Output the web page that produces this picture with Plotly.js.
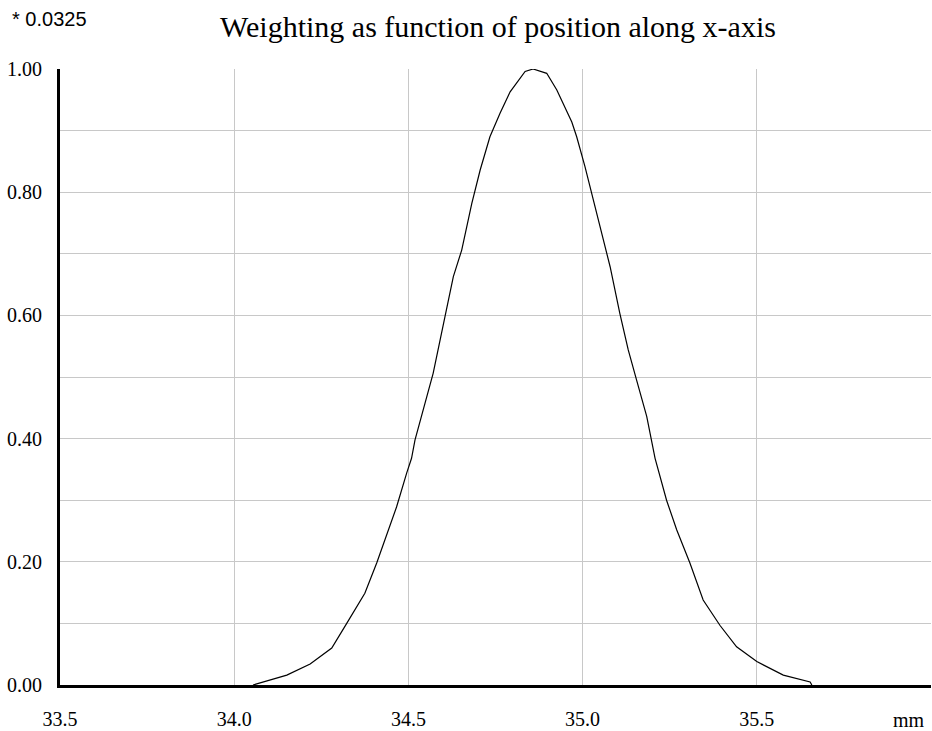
<!DOCTYPE html>
<html>
<head>
<meta charset="utf-8">
<script src="https://cdn.plot.ly/plotly-3.0.1.min.js"></script>
<style>html,body{margin:0;padding:0;background:#fff;}#chart{width:932px;height:731px;}</style>
</head>
<body>
<div id="chart"></div>
<script>
// Position along x-axis (mm)
const positionMm = [34.054, 34.151, 34.218, 34.280, 34.323, 34.375, 34.409, 34.438, 34.466, 34.495,
  34.509, 34.519, 34.543, 34.571, 34.605, 34.629, 34.653, 34.682, 34.706, 34.734, 34.763, 34.792,
  34.835, 34.858, 34.897, 34.926, 34.969, 34.983, 35.007, 35.031, 35.059, 35.079, 35.107, 35.131,
  35.155, 35.184, 35.208, 35.241, 35.270, 35.308, 35.346, 35.394, 35.442, 35.500, 35.576, 35.653, 35.658];
// Weighting (scaled by 0.0325)
const weighting = [0.000, 0.016, 0.034, 0.060, 0.100, 0.149, 0.198, 0.246, 0.289, 0.344,
  0.368, 0.398, 0.446, 0.506, 0.598, 0.663, 0.706, 0.782, 0.836, 0.890, 0.928, 0.963,
  0.996, 1.000, 0.993, 0.966, 0.914, 0.890, 0.841, 0.787, 0.728, 0.679, 0.603, 0.544,
  0.495, 0.436, 0.368, 0.300, 0.252, 0.198, 0.138, 0.097, 0.062, 0.038, 0.016, 0.005, 0.000];
const xTickVals = [33.5, 34.0, 34.5, 35.0, 35.5, 36.0];
const xTickText = ['33.5', '34.0', '34.5', '35.0', '35.5', ''];
const yTickVals = [0, 0.2, 0.4, 0.6, 0.8, 1.0];
const yTickText = ['0.00', '0.20', '0.40', '0.60', '0.80', '1.00'];
const titleText = 'Weighting as function of position along x-axis';
const scaleText = '* 0.0325';
const unitText = 'mm';

Plotly.newPlot('chart', [{
  x: positionMm, y: weighting, type: 'scatter', mode: 'lines',
  line: {color: '#000', width: 1.2}
}], {
  width: 932, height: 731,
  margin: {l: 60, r: 1, t: 69, b: 46},
  showlegend: false,
  title: {text: titleText, font: {family: 'Liberation Serif', size: 30, color: '#000'},
    x: 498/932, xref: 'container', xanchor: 'center', y: 1 - 26/731, yref: 'container', yanchor: 'middle'},
  xaxis: {
    range: [33.5, 36.0], tickmode: 'array', tickvals: xTickVals, ticktext: xTickText,
    showgrid: true, gridcolor: '#c8c8c8', gridwidth: 1,
    showline: true, linecolor: '#000', linewidth: 3, zeroline: false,
    ticks: '', ticklabelstandoff: 14, tickfont: {family: 'Liberation Serif', size: 20, color: '#000'}
  },
  yaxis: {
    range: [0, 1], tickmode: 'array', tickvals: yTickVals, ticktext: yTickText,
    showgrid: true, gridcolor: '#c8c8c8', gridwidth: 1,
    minor: {tickmode: 'linear', tick0: 0, dtick: 0.1, showgrid: true, gridcolor: '#c8c8c8', gridwidth: 1, ticks: ''},
    showline: true, linecolor: '#000', linewidth: 3, zeroline: false,
    ticks: '', ticklabelstandoff: 11, tickfont: {family: 'Liberation Serif', size: 20, color: '#000'}
  },
  annotations: [
    {text: scaleText, xref: 'paper', yref: 'paper', x: -50/871, y: 1 + 50/616, xanchor: 'left', yanchor: 'middle',
      showarrow: false, font: {family: 'Liberation Sans', size: 20, color: '#000'}},
    {text: unitText, xref: 'paper', yref: 'paper', x: (909 - 60)/871, y: -35/616, xanchor: 'center', yanchor: 'middle',
      showarrow: false, font: {family: 'Liberation Serif', size: 20, color: '#000'}}
  ]
}, {staticPlot: true});
</script>
</body>
</html>
